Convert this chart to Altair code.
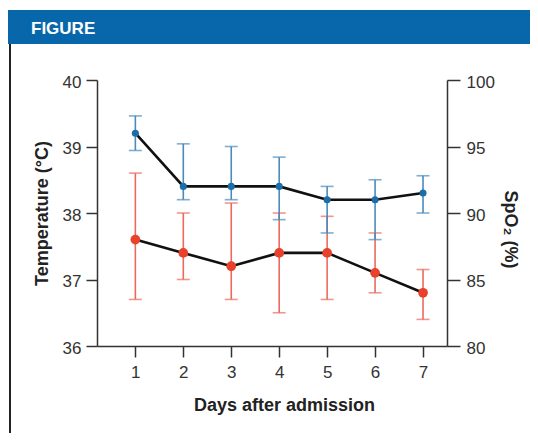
import altair as alt
import pandas as pd

days = [1, 2, 3, 4, 5, 6, 7]
temp_mean = [37.6, 37.4, 37.2, 37.4, 37.4, 37.1, 36.8]
temp_low = [36.7, 37.0, 36.7, 36.5, 36.7, 36.8, 36.4]
temp_high = [38.6, 38.0, 38.15, 38.0, 37.95, 37.7, 37.15]
spo2_mean = [96, 92, 92, 92, 91, 91, 91.5]
spo2_low = [94.7, 91.0, 91.0, 89.5, 88.5, 88.0, 90.0]
spo2_high = [97.3, 95.2, 95.0, 94.2, 92.0, 92.5, 92.8]

df = pd.DataFrame({
    "day": days,
    "t": temp_mean, "tl": temp_low, "th": temp_high,
    "s": spo2_mean, "sl": spo2_low, "sh": spo2_high,
})
one = pd.DataFrame({"k": [0]})

FONT = "Liberation Sans, Arial, sans-serif"
RED_PT = "#e8412c"
RED_BAR = "#ea6b5c"
BLUE_PT = "#1b6ea6"
BLUE_BAR = "#4a8bbd"
AXC = "#333333"

xs = alt.Scale(domain=[0.2, 7.5], nice=False, zero=False)
ts = alt.Scale(domain=[36, 40], nice=False, zero=False)
ss = alt.Scale(domain=[80, 100], nice=False, zero=False)

x_axis = alt.Axis(values=days, title="Days after admission", titleX=187, titleY=64,
                  titleBaseline="alphabetic", titleAnchor="start", titleAlign="center",
                  tickSize=11, labelPadding=7)
X = alt.X("day:Q", scale=xs, axis=x_axis)

left_axis = alt.Axis(orient="left", values=[36, 37, 38, 39, 40], title="Temperature (°C)",
                     titleX=-55, titleY=133, titleAngle=-90, titleBaseline="middle",
                     titleAlign="center", tickSize=11, labelPadding=5, labelOffset=2)
right_axis = alt.Axis(orient="right", values=[80, 85, 90, 95, 100], title="SpO₂ (%)",
                      titleX=62, titleY=149, titleAngle=90, titleBaseline="middle",
                      titleAlign="center", tickSize=13, labelPadding=6, labelOffset=2)

base = alt.Chart(df)

red_rule = base.mark_rule(color=RED_BAR, strokeWidth=1.6).encode(
    x=X, y=alt.Y("tl:Q", scale=ts, axis=left_axis), y2="th:Q")
red_cap_hi = base.mark_tick(color=RED_BAR, size=13, thickness=1.6, orient="horizontal").encode(
    x=X, y=alt.Y("th:Q", scale=ts, axis=None))
red_cap_lo = base.mark_tick(color=RED_BAR, size=13, thickness=1.6, orient="horizontal").encode(
    x=X, y=alt.Y("tl:Q", scale=ts, axis=None))

blue_rule = base.mark_rule(color=BLUE_BAR, strokeWidth=1.6).encode(
    x=X, y=alt.Y("sl:Q", scale=ss, axis=right_axis), y2="sh:Q")
blue_cap_hi = base.mark_tick(color=BLUE_BAR, size=13, thickness=1.6, orient="horizontal").encode(
    x=X, y=alt.Y("sh:Q", scale=ss, axis=None))
blue_cap_lo = base.mark_tick(color=BLUE_BAR, size=13, thickness=1.6, orient="horizontal").encode(
    x=X, y=alt.Y("sl:Q", scale=ss, axis=None))

red_line = base.mark_line(color="#111111", strokeWidth=2.6).encode(
    x=X, y=alt.Y("t:Q", scale=ts, axis=None))
blue_line = base.mark_line(color="#111111", strokeWidth=2.6).encode(
    x=X, y=alt.Y("s:Q", scale=ss, axis=None))
red_pt = base.mark_circle(color=RED_PT, size=95, opacity=1).encode(
    x=X, y=alt.Y("t:Q", scale=ts, axis=None))
blue_pt = base.mark_circle(color=BLUE_PT, size=50, opacity=1).encode(
    x=X, y=alt.Y("s:Q", scale=ss, axis=None))

banner = alt.Chart(one).mark_rect(color="#0767aa").encode(
    x=alt.value(-89), x2=alt.value(433), y=alt.value(-70), y2=alt.value(-36))
banner_text = alt.Chart(one).mark_text(text="FIGURE", color="white", font=FONT,
                                       fontSize=17, fontWeight="bold", align="left",
                                       baseline="alphabetic").encode(
    x=alt.value(-66), y=alt.value(-46))
side_rule = alt.Chart(one).mark_rule(color="#222222", strokeWidth=2).encode(
    x=alt.value(-87), y=alt.value(-36), y2=alt.value(361))

chart = alt.layer(
    red_rule, red_cap_hi, red_cap_lo,
    blue_rule, blue_cap_hi, blue_cap_lo,
    red_line, blue_line, red_pt, blue_pt,
    banner, banner_text, side_rule,
).resolve_scale(y="independent").properties(
    width=350, height=266,
    autosize=alt.AutoSizeParams(type="none"),
    padding={"left": 89, "top": 72, "right": 83, "bottom": 87},
).configure_view(stroke=None).configure_axis(
    grid=False, domainColor=AXC, domainWidth=1.5, tickColor=AXC, tickWidth=1.5,
    labelColor=AXC, labelFont=FONT, labelFontSize=17, titleFont=FONT,
    titleFontSize=18, titleFontWeight="bold", titleColor="#222222",
)

chart.save("out.html", embed_options={"renderer": "svg", "actions": False})
